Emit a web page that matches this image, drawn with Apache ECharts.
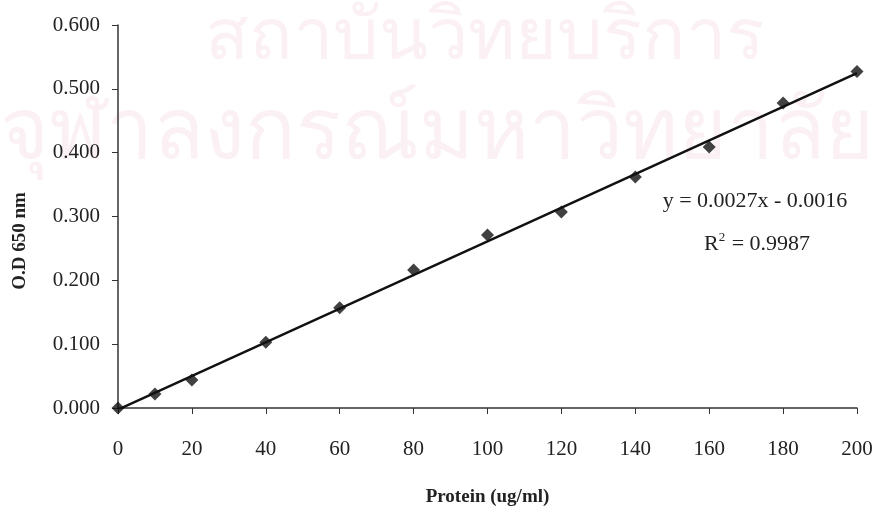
<!DOCTYPE html>
<html>
<head>
<meta charset="utf-8">
<script src="https://cdn.jsdelivr.net/npm/echarts@6/dist/echarts.min.js"></script>
<style>
html, body { margin: 0; padding: 0; background: #fff; }
#chart { width: 880px; height: 509px; }
</style>
</head>
<body>
<div id="chart"></div>
<script>
var protein = [0, 10, 20, 40, 60, 80, 100, 120, 140, 160, 180, 200];
var od650 = [0.000, 0.022, 0.044, 0.103, 0.157, 0.216, 0.271, 0.307, 0.362, 0.409, 0.478, 0.527];
var eqText = 'y = 0.0027x - 0.0016';
var r2Value = '0.9987';

var myChart = echarts.init(document.getElementById('chart'));

// least squares trendline through the points
var n = protein.length, sx = 0, sy = 0, sxx = 0, sxy = 0;
for (var i = 0; i < n; i++) {
  sx += protein[i]; sy += od650[i];
  sxx += protein[i] * protein[i]; sxy += protein[i] * od650[i];
}
var slope = (n * sxy - sx * sy) / (n * sxx - sx * sx);
var icpt = (sy - slope * sx) / n;
var trend = [[0, icpt], [200, slope * 200 + icpt]];

var pts = [];
for (var j = 0; j < n; j++) pts.push([protein[j], od650[j]]);

var serif = 'Liberation Serif';

var option = {
  backgroundColor: '#FFFFFF',
  animation: false,
  grid: { left: 118, right: 23, top: 25, bottom: 101, outerBoundsMode: 'none', containLabel: false },
  graphic: [
    {
      type: 'text', left: 205, top: 2, z: -10, silent: true,
      style: { text: 'สถาบันวิทยบริการ', fill: '#fbf1f5', font: '72px "Noto Sans"' }
    },
    {
      type: 'text', left: 0, top: 92, z: -10, silent: true,
      style: { text: 'จุฬาลงกรณ์มหาวิทยาลัย', fill: '#fbf1f5', font: '84px "Noto Sans"' }
    },
    {
      type: 'text', x: 20, y: 241, rotation: Math.PI / 2,
      style: { text: 'O.D 650 nm', fill: '#222', font: 'bold 19px "Liberation Serif"', align: 'center', verticalAlign: 'middle' }
    },
    {
      type: 'text', x: 755, y: 201,
      style: { text: eqText, fill: '#222', font: '22px "Liberation Serif"', align: 'center', verticalAlign: 'middle' }
    },
    {
      type: 'text', x: 757, y: 244,
      style: {
        text: 'R{sup|2} = ' + r2Value, fill: '#222', font: '22px "Liberation Serif"', align: 'center', verticalAlign: 'middle',
        rich: { sup: { fontSize: 13, verticalAlign: 'top', padding: [0, 1, 12, 0], fontFamily: serif, fill: '#222' } }
      }
    }
  ],
  xAxis: {
    type: 'value', min: 0, max: 200, interval: 20,
    name: 'Protein (ug/ml)', nameLocation: 'middle', nameGap: 80,
    nameTextStyle: { fontFamily: serif, fontWeight: 'bold', fontSize: 19, color: '#222' },
    axisLine: { lineStyle: { color: '#333', width: 1.5 } },
    axisTick: { show: true, length: 6, lineStyle: { color: '#333' } },
    axisLabel: { fontFamily: serif, fontSize: 21, color: '#222', margin: 31 },
    splitLine: { show: false }
  },
  yAxis: {
    type: 'value', min: 0, max: 0.6, interval: 0.1,
    axisLine: { show: true, lineStyle: { color: '#333', width: 1.5 } },
    axisTick: { show: true, length: 6, lineStyle: { color: '#333' } },
    axisLabel: {
      fontFamily: serif, fontSize: 21, color: '#222', margin: 18,
      formatter: function (v) { return v.toFixed(3); }
    },
    splitLine: { show: false }
  },
  series: [
    {
      name: 'trend', type: 'line', data: trend, symbol: 'none',
      lineStyle: { color: '#111', width: 2.5 }, z: 2
    },
    {
      name: 'OD', type: 'scatter', data: pts, symbol: 'diamond', symbolSize: 13,
      itemStyle: { color: '#111' }, z: 3
    }
  ]
};

option && myChart.setOption(option);
</script>
</body>
</html>
